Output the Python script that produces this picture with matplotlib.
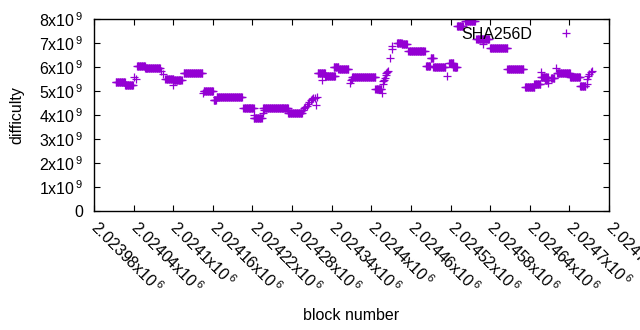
import numpy as np
import matplotlib
matplotlib.use("Agg")
import matplotlib.pyplot as plt
from matplotlib.ticker import FixedLocator

# ---- data (difficulty in units of 1e9) ----
run_start = [2024013, 2024027, 2024045, 2024057, 2024088, 2024100, 2024116, 2024146,
             2024161, 2024166, 2024176, 2024206, 2024222, 2024236, 2024274, 2024319,
             2024330, 2024343, 2024350, 2024371, 2024406, 2024439, 2024446, 2024456,
             2024483, 2024490, 2024494, 2024518, 2024524, 2024530, 2024542, 2024559,
             2024580, 2024606, 2024633, 2024647, 2024657, 2024663, 2024672, 2024681,
             2024701, 2024716]
run_end = [2024027, 2024039, 2024057, 2024080, 2024100, 2024113, 2024144, 2024160,
           2024165, 2024175, 2024204, 2024222, 2024234, 2024274, 2024295, 2024330,
           2024345, 2024350, 2024365, 2024406, 2024415, 2024446, 2024454, 2024481,
           2024489, 2024494, 2024512, 2024524, 2024530, 2024539, 2024557, 2024578,
           2024606, 2024630, 2024647, 2024656, 2024667, 2024668, 2024677, 2024701,
           2024716, 2024724]
run_diff = [5.37, 5.25, 6.04, 5.94, 5.52, 5.47, 5.75, 5.00,
            4.63, 4.77, 4.73, 4.28, 3.88, 4.28, 4.10, 5.74,
            5.64, 6.00, 5.90, 5.60, 5.07, 7.02, 6.96, 6.67,
            6.04, 6.36, 5.99, 6.15, 6.02, 7.71, 7.90, 7.18,
            6.79, 5.90, 5.18, 5.28, 5.58, 5.46, 5.55, 5.74,
            5.60, 5.22]

single_block = [2024041, 2024043, 2024082, 2024084, 2024100, 2024145, 2024223, 2024236,
                2024237, 2024296, 2024298, 2024300, 2024302, 2024304, 2024306, 2024308,
                2024310, 2024312, 2024314, 2024316, 2024318, 2024326, 2024368, 2024369,
                2024370, 2024416, 2024417, 2024418, 2024419, 2024420, 2024422, 2024423,
                2024424, 2024425, 2024428, 2024431, 2024432, 2024514, 2024569, 2024657,
                2024668, 2024679, 2024726, 2024727, 2024728, 2024730, 2024732, 2024734]
single_diff = [5.60, 5.50, 5.82, 5.72, 5.27, 4.90, 4.00, 4.10,
               4.20, 4.20, 4.30, 4.35, 4.38, 4.45, 4.55, 4.62,
               4.68, 4.70, 4.72, 4.42, 4.75, 5.46, 5.35, 5.45,
               5.50, 4.90, 5.30, 5.40, 5.45, 5.55, 5.65, 5.75,
               5.80, 5.85, 6.36, 6.75, 6.87, 5.62, 6.97, 5.80,
               5.32, 5.97, 5.30, 5.50, 5.62, 5.72, 5.78, 5.85]

x_ticks = [2023980, 2024040, 2024100, 2024160, 2024220, 2024280, 2024340, 2024400,
           2024460, 2024520, 2024580, 2024640, 2024700, 2024760]
x_tick_labels = ["2.02398", "2.02404", "2.0241", "2.02416", "2.02422", "2.02428",
                 "2.02434", "2.0244", "2.02446", "2.02452", "2.02458", "2.02464",
                 "2.0247", "2.02476"]
y_ticks = [0, 1e9, 2e9, 3e9, 4e9, 5e9, 6e9, 7e9, 8e9]
y_tick_labels = ["0"] + ["%dx10$^{\\,9}$" % i for i in range(1, 9)]

# expand constant-difficulty runs into one point per block
bx, by = [], []
for s, e, d in zip(run_start, run_end, run_diff):
    for b in range(s, e + 1):
        bx.append(b)
        by.append(d * 1e9)
for b, d in zip(single_block, single_diff):
    bx.append(b)
    by.append(d * 1e9)

plt.rcParams['font.family'] = ['Liberation Sans', 'DejaVu Sans']
plt.rcParams['mathtext.default'] = 'regular'
FS = 11.5

fig = plt.figure(figsize=(6.4, 3.3), dpi=100)
ax = fig.add_axes([94/640, (330-211)/330, (609-94)/640, (211-19)/330])

color = '#9400D3'
ax.plot(bx, by, linestyle='none', marker='+', markersize=5.4, markeredgewidth=0.9,
        color=color, label='SHA256D')

ax.set_xlim(x_ticks[0], x_ticks[-1])
ax.set_ylim(0, 8e9)
ax.xaxis.set_major_locator(FixedLocator(x_ticks))
ax.yaxis.set_major_locator(FixedLocator(y_ticks))
ax.set_yticklabels(y_tick_labels)
ax.set_xticklabels([l + "x10$^{\\,6}$" for l in x_tick_labels])
for lab in ax.get_xticklabels():
    lab.set_rotation(-45)
    lab.set_ha('left')
    lab.set_va('center')
    lab.set_rotation_mode('anchor')

ax.tick_params(direction='in', length=4, width=0.8, top=True, right=True,
               labelsize=FS, colors='black')
ax.tick_params(axis='x', pad=9.5)
ax.tick_params(axis='y', pad=8)
for sp in ax.spines.values():
    sp.set_linewidth(1.0)

ax.set_xlabel('block number', fontsize=FS, va='center', ha='center')
ax.xaxis.set_label_coords(0.5, (211 - 315) / 192)
ax.set_ylabel('difficulty', fontsize=FS, va='center', ha='center')
ax.yaxis.set_label_coords((17 - 94) / 515, 0.5)

leg = ax.legend(loc='upper right', bbox_to_anchor=(0.9476, 0.958), frameon=False,
                markerfirst=False, fontsize=FS, handlelength=2.0, handletextpad=1.1,
                borderpad=0, borderaxespad=0)

fig.savefig('out.png', dpi=100)
